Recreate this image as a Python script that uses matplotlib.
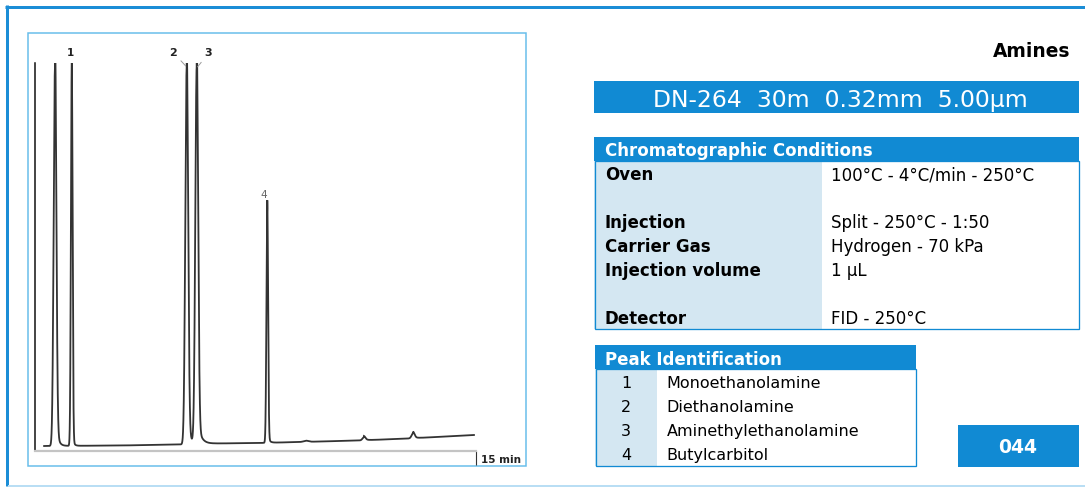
import numpy as np
import matplotlib
matplotlib.use("Agg")
import matplotlib.pyplot as plt
from matplotlib.patches import Rectangle

plt.rcParams['font.family'] = ['DejaVu Sans']

# ---------------- data ----------------
title = "Amines"
column_spec = "DN-264  30m  0.32mm  5.00\u00b5m"
cond_labels = ["Oven", "", "Injection", "Carrier Gas", "Injection volume", "", "Detector"]
cond_values = ["100\u00b0C - 4\u00b0C/min - 250\u00b0C", "", "Split - 250\u00b0C - 1:50",
               "Hydrogen - 70 kPa", "1 \u00b5L", "", "FID - 250\u00b0C"]
peak_numbers = ["1", "2", "3", "4"]
peak_names = ["Monoethanolamine", "Diethanolamine", "Aminethylethanolamine", "Butylcarbitol"]
app_number = "044"

# chromatogram (time in min, signal in % of full scale)
peak_labels = ["", "1", "2", "3", "4", "", "", ""]
peak_times = [0.68, 1.25, 5.16, 5.50, 7.90, 9.22, 11.19, 12.86]
peak_heights = [97.8, 97.6, 97.3, 97.0, 60.6, 0.3, 0.8, 1.3]
peak_sigmas = [0.045, 0.028, 0.048, 0.048, 0.028, 0.08, 0.05, 0.05]
tail_amps = [10.0, 3.0, 6.0, 7.0, 2.0, 0.0, 0.3, 0.4]
tail_taus = [0.07, 0.05, 0.10, 0.12, 0.06, 0.1, 0.1, 0.1]
baseline_times = [0.31, 2.9, 4.9, 6.1, 7.6, 9.0, 11.0, 12.7, 14.93]
baseline_levels = [1.21, 1.34, 1.60, 1.86, 1.99, 2.24, 2.63, 3.15, 4.05]
run_start, run_end = 0.31, 14.93
axis_end = 15

BLUE = '#118AD3'
LIGHT = '#D4E7F2'

W, H = 1085, 487
fig = plt.figure(figsize=(W / 100, H / 100), dpi=100)
fig.patch.set_facecolor('white')

bg = fig.add_axes([0, 0, 1, 1])
bg.set_xlim(0, W)
bg.set_ylim(H, 0)
bg.axis('off')

px = 0.72  # points per pixel

# outer frame
bg.plot([5, W], [6.5, 6.5], color='#1B8DD6', lw=3 * px, solid_capstyle='butt')
bg.plot([6.5, 6.5], [5, 486], color='#1B8DD6', lw=3 * px, solid_capstyle='butt')
bg.plot([8, W], [485.5, 485.5], color='#B9DEF4', lw=2 * px, solid_capstyle='butt')

# chromatogram box
bg.add_patch(Rectangle((27.5, 32.5), 498.5, 433.5, fill=False, ec='#66BDEB', lw=1.5 * px))

# title
bg.text(1070, 56.7, title, ha='right', va='baseline', fontsize=13.4, fontweight='bold', color='black')

# column bar
bg.add_patch(Rectangle((594, 80.7), 485, 32.3, fc=BLUE, ec='none'))
bg.text(840, 107, column_spec, ha='center', va='baseline', fontsize=16.9, color='white')

# conditions table
bg.add_patch(Rectangle((594, 137), 485, 23.7, fc=BLUE, ec='none'))
bg.add_patch(Rectangle((594, 160.7), 227.7, 168.3, fc=LIGHT, ec='none'))
bg.add_patch(Rectangle((594.5, 160.7), 484, 168, fill=False, ec=BLUE, lw=1.3 * px))
bg.text(605, 156, "Chromatographic Conditions", ha='left', va='baseline', fontsize=12,
        fontweight='bold', color='white')
for i, (lab, val) in enumerate(zip(cond_labels, cond_values)):
    yb = 180 + 24 * i
    bg.text(605, yb, lab, ha='left', va='baseline', fontsize=12, fontweight='bold', color='black')
    bg.text(830.7, yb, val, ha='left', va='baseline', fontsize=12, color='black')

# peak identification table
bg.add_patch(Rectangle((595, 345), 321, 24, fc=BLUE, ec='none'))
bg.add_patch(Rectangle((595, 369), 61.7, 97, fc=LIGHT, ec='none'))
bg.add_patch(Rectangle((595.5, 369), 320, 96.5, fill=False, ec=BLUE, lw=1.3 * px))
bg.text(605, 365, "Peak Identification", ha='left', va='baseline', fontsize=12,
        fontweight='bold', color='white')
for i, (num, name) in enumerate(zip(peak_numbers, peak_names)):
    yb = 387.8 + 24.1 * i
    bg.text(626, yb, num, ha='center', va='baseline', fontsize=11.5, color='black')
    bg.text(666.7, yb, name, ha='left', va='baseline', fontsize=11.5, color='black')

# app number box
bg.add_patch(Rectangle((957.7, 425), 121.3, 41.7, fc=BLUE, ec='none'))
bg.text(1018, 453, app_number, ha='center', va='baseline', fontsize=13.5,
        fontweight='bold', color='white')

# ---------------- chromatogram ----------------
x0, x1 = 35, 476
yb_px, yt_px = 450.7, 63
ax = fig.add_axes([x0 / W, (H - yb_px) / H, (x1 - x0) / W, (yb_px - yt_px) / H])
ax.patch.set_alpha(0)
ax.set_xlim(0, axis_end)
ax.set_ylim(0, 100)

t = np.linspace(run_start, run_end, 8000)
sig = np.interp(t, baseline_times, baseline_levels)
for t0, h, s, a, tau in zip(peak_times, peak_heights, peak_sigmas, tail_amps, tail_taus):
    sig = sig + h * np.exp(-0.5 * ((t - t0) / s) ** 2)
    dt = np.clip(t - t0, 0, None)
    sig = sig + np.where(t >= t0, a * np.exp(-dt / tau), 0.0)
ax.plot(t, sig, color='#333333', lw=1.3, solid_joinstyle='miter')

for sp in ['top', 'right']:
    ax.spines[sp].set_visible(False)
ax.spines['left'].set_color('#111111')
ax.spines['left'].set_linewidth(1.1)
ax.spines['bottom'].set_color('#C4C4C4')
ax.spines['bottom'].set_linewidth(1.6)
ax.set_yticks([])
ax.set_xticks([axis_end])
ax.tick_params(axis='x', length=10, width=0.8, color='#333333', labelbottom=False, direction='out')
ax.annotate(f"{axis_end} min", xy=(axis_end, 0), xytext=(3.6, -8.9), textcoords='offset points',
            ha='left', va='baseline', fontsize=7.5, fontweight='bold', color='#222222',
            annotation_clip=False)

label_offsets = {"1": (-1.2, 10.1), "2": (-9.6, 10.4), "3": (8.4, 10.4), "4": (-2.7, 9.0)}
for lab, t0, h in zip(peak_labels, peak_times, peak_heights):
    if not lab:
        continue
    top = h + float(np.interp(t0, baseline_times, baseline_levels))
    dx, dy = label_offsets[lab]
    if lab in ("2", "3"):
        ax.annotate(lab, xy=(t0, top), xytext=(dx, dy), textcoords='offset points',
                    ha='center', va='center', fontsize=8, fontweight='bold', color='#222222',
                    annotation_clip=False,
                    arrowprops=dict(arrowstyle='-', color='#9A9A9A', lw=0.7, shrinkA=1, shrinkB=1))
    elif lab == "4":
        ax.annotate(lab, xy=(t0, top), xytext=(dx, dy), textcoords='offset points',
                    ha='center', va='center', fontsize=7.5, color='#666666', annotation_clip=False)
    else:
        ax.annotate(lab, xy=(t0, top), xytext=(dx, dy), textcoords='offset points',
                    ha='center', va='center', fontsize=7.5, fontweight='bold', color='#222222',
                    annotation_clip=False)

fig.savefig("out.png", dpi=100, facecolor='white')
